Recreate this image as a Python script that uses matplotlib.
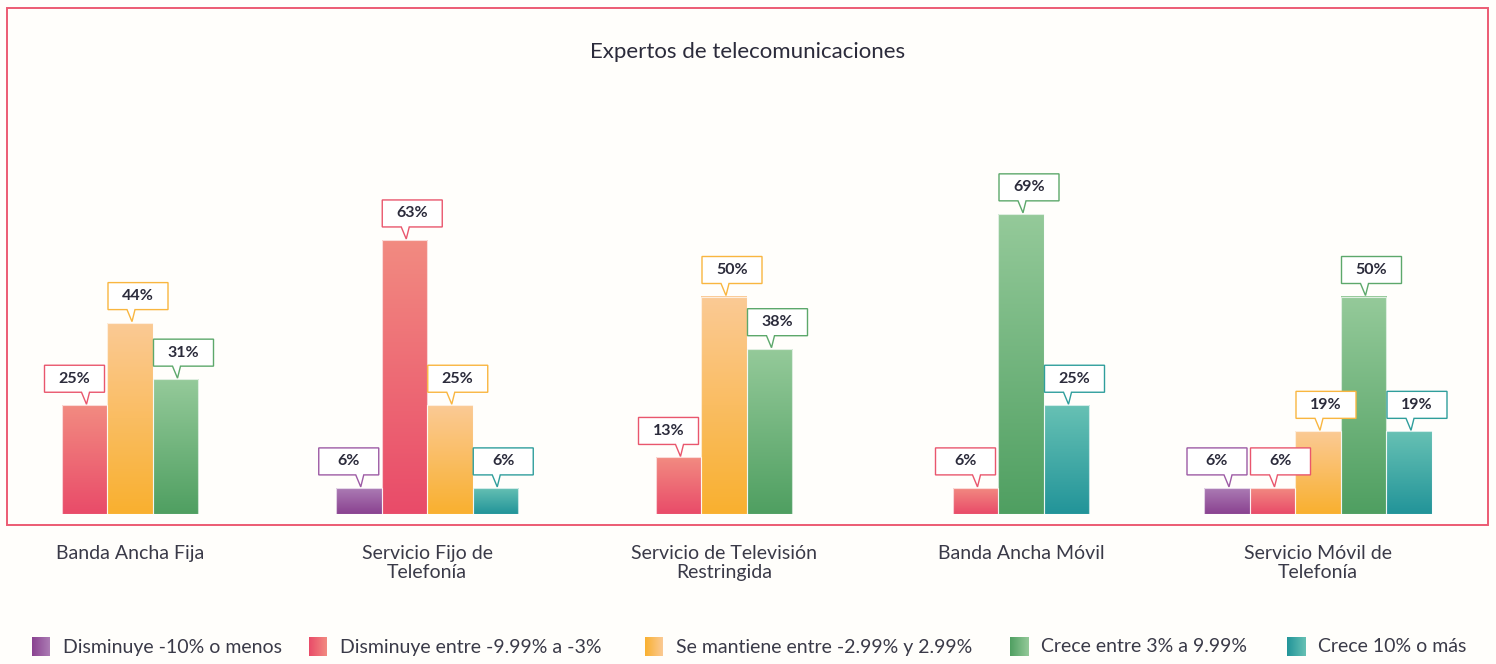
import numpy as np
import matplotlib.pyplot as plt
from matplotlib.colors import LinearSegmentedColormap
from matplotlib.patches import Polygon, Rectangle
from matplotlib import transforms

plt.rcParams['font.family'] = ['Lato', 'DejaVu Sans']

# datos
categorias = ['Banda Ancha Fija', 'Servicio Fijo de\nTelefonía', 'Servicio de Televisión\nRestringida',
              'Banda Ancha Móvil', 'Servicio Móvil de\nTelefonía']
series = ['Disminuye -10% o menos', 'Disminuye entre -9.99% a -3%', 'Se mantiene entre -2.99% y 2.99%',
          'Crece entre 3% a 9.99%', 'Crece 10% o más']
disminuye_10 = [0, 6, 0, 0, 6]
disminuye_3 = [25, 63, 13, 6, 6]
se_mantiene = [44, 25, 50, 0, 19]
crece_3 = [31, 0, 38, 69, 50]
crece_10 = [0, 6, 0, 25, 19]
valores = [disminuye_10, disminuye_3, se_mantiene, crece_3, crece_10]

# (arriba, abajo) del degradado y color del borde del globo
col_top = ['#AC7DB5', '#F28B81', '#FBCA95', '#95CA9A', '#67C1B4']
col_bot = ['#8A4290', '#E94B69', '#F9B02F', '#4F9F61', '#229499']
col_edge = ['#9D5BA5', '#E9566D', '#F9B640', '#5CA86B', '#2F9E9C']
txt_color = '#2B2B3B'
bg = '#FFFEFB'

W, H = 1496, 664
fig = plt.figure(figsize=(W / 100, H / 100), dpi=100, facecolor=bg)
ax = fig.add_axes([7 / W, 1 - 514 / H, (1488 - 7) / W, 435 / H])
ax.set_facecolor('none')
ax.patch.set_visible(False)

px = 1 / 297.0  # ancho de grupo en unidades de categoría
w = 45.5 * px
grad = np.linspace(0, 1, 256).reshape(-1, 1)

for i, cat in enumerate(categorias):
    idx = [s for s in range(len(series)) if valores[s][i] > 0]
    n = len(idx)
    for k, s in enumerate(idx):
        v = valores[s][i]
        xc = i + (k - (n - 1) / 2) * w
        cmap = LinearSegmentedColormap.from_list('g%d' % s, [col_bot[s], col_top[s]])
        bar = ax.bar(xc, v, width=w, color=col_bot[s], edgecolor='white', linewidth=0.6, zorder=2)[0]
        im = ax.imshow(grad, extent=[xc - w / 2, xc + w / 2, 0, v], origin='lower', aspect='auto',
                       cmap=cmap, zorder=2.5, interpolation='bilinear')
        im.set_clip_path(bar)
        ax.bar(xc, v, width=w, fill=False, edgecolor=(1, 1, 1, 0.7), linewidth=0.8, zorder=3)

        # globo con la etiqueta
        dx = -10 if k == 0 else 8
        trans = fig.dpi_scale_trans + transforms.ScaledTranslation(xc, v, ax.transData)
        bw, bh, gap = 60, 27, 13
        l, r = dx - bw / 2, dx + bw / 2
        tb = 0
        verts = np.array([[l, gap], [tb - 3, gap], [tb + 2, 1], [tb + 5, gap], [r, gap],
                          [r, gap + bh], [l, gap + bh]]) / 100.0
        ax.add_patch(Polygon(verts, closed=True, transform=trans, facecolor='white',
                             edgecolor=col_edge[s], linewidth=1.0, zorder=5, clip_on=False))
        ax.text(dx / 100.0, (gap + bh / 2) / 100.0, f'{v}%', transform=trans, ha='center', va='center',
                fontsize=11.5, fontweight='bold', color=txt_color, zorder=6)

ax.set_xlim(-(130 - 7) * px, 4 + (1488 - 1318) * px)
ax.set_ylim(0, 100)
ax.set_xticks(range(len(categorias)))
ax.set_xticklabels(categorias, fontsize=14, color='#3A3A48', linespacing=1.2)
ax.tick_params(axis='x', length=0, pad=22)
ax.set_yticks([])
for sp in ax.spines.values():
    sp.set_visible(False)

fig.text(0.5, 1 - 52 / H, 'Expertos de telecomunicaciones', ha='center', va='center',
         fontsize=16, color=txt_color)

# marco
fig.add_artist(Rectangle((7 / W, 1 - 525 / H), (1488 - 7) / W, (525 - 8) / H, transform=fig.transFigure,
                         fill=False, edgecolor='#EC5B73', linewidth=1.4))

# leyenda
sq_x = [32, 309, 645, 1010, 1287]
hgrad = np.linspace(0, 1, 256).reshape(1, -1)
for s, name in enumerate(series):
    lax = fig.add_axes([sq_x[s] / W, 1 - 656 / H, 18 / W, 19 / H])
    lax.imshow(hgrad, aspect='auto', cmap=LinearSegmentedColormap.from_list('l%d' % s, [col_bot[s], col_top[s]]))
    lax.axis('off')
    fig.text((sq_x[s] + 31) / W, 1 - 647 / H, name, ha='left', va='center', fontsize=14, color='#3A3A48')

fig.savefig('out.png', dpi=100, facecolor=bg)
